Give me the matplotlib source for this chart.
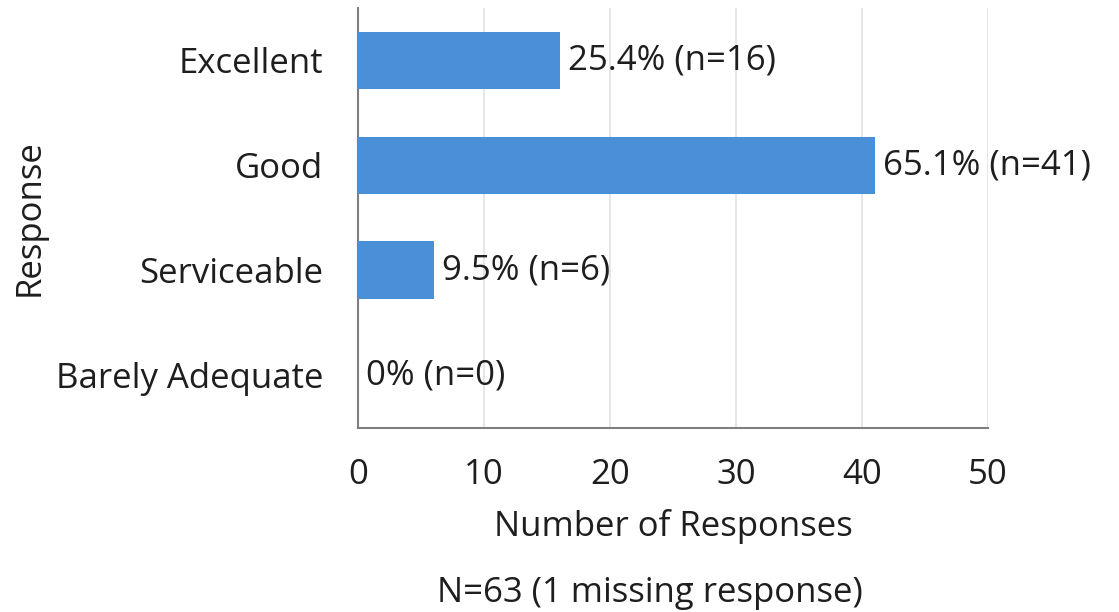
import matplotlib
matplotlib.use("Agg")
from matplotlib import pyplot as plt

plt.rcParams['font.family'] = ['Open Sans', 'DejaVu Sans']

categories = ["Excellent", "Good", "Serviceable", "Barely Adequate"]
counts = [16, 41, 6, 0]
percents = ["25.4%", "65.1%", "9.5%", "0%"]
xticks = [0, 10, 20, 30, 40, 50]

FS = 25
TXT = '#1e1e1e'

fig = plt.figure(figsize=(11.19, 6.12), dpi=100)
ax = fig.add_axes([0.320, 0.301, 0.563, 0.686])

ypos = list(range(len(categories)))
ax.barh(ypos, counts, height=0.55, color='#4a90d9', zorder=3)
ax.set_ylim(len(categories) - 0.5, -0.5)
ax.set_xlim(0, 50)

for y, c, p in zip(ypos, counts, percents):
    ax.annotate(f"{p} (n={c})", (c, y), xytext=(6, 0), textcoords='offset points',
                va='center', ha='left', fontsize=FS, color=TXT, zorder=4)

ax.set_yticks(ypos)
ax.set_yticklabels(categories, fontsize=FS, color=TXT)
ax.set_xticks(xticks)
ax.set_xticklabels([str(t) for t in xticks], fontsize=FS, color=TXT)
ax.tick_params(axis='y', length=0, pad=25)
ax.tick_params(axis='x', length=0, pad=22)

ax.grid(axis='x', color='#e2e2e2', linewidth=1.2, zorder=0)
for s in ['top', 'right']:
    ax.spines[s].set_visible(False)
for s in ['left', 'bottom']:
    ax.spines[s].set_color('#7f7f7f')
    ax.spines[s].set_linewidth(1.5)

ax.set_xlabel("Number of Responses", fontsize=FS, color=TXT, labelpad=12)
ax.set_ylabel("Response", fontsize=FS, color=TXT)
ax.yaxis.set_label_coords(-0.494, 0.5)

fig.text(650 / 1119, 1 - 593 / 612, "N=63 (1 missing response)", fontsize=FS,
         color=TXT, ha='center', va='center')

fig.savefig("out.png", dpi=100, facecolor='white')
